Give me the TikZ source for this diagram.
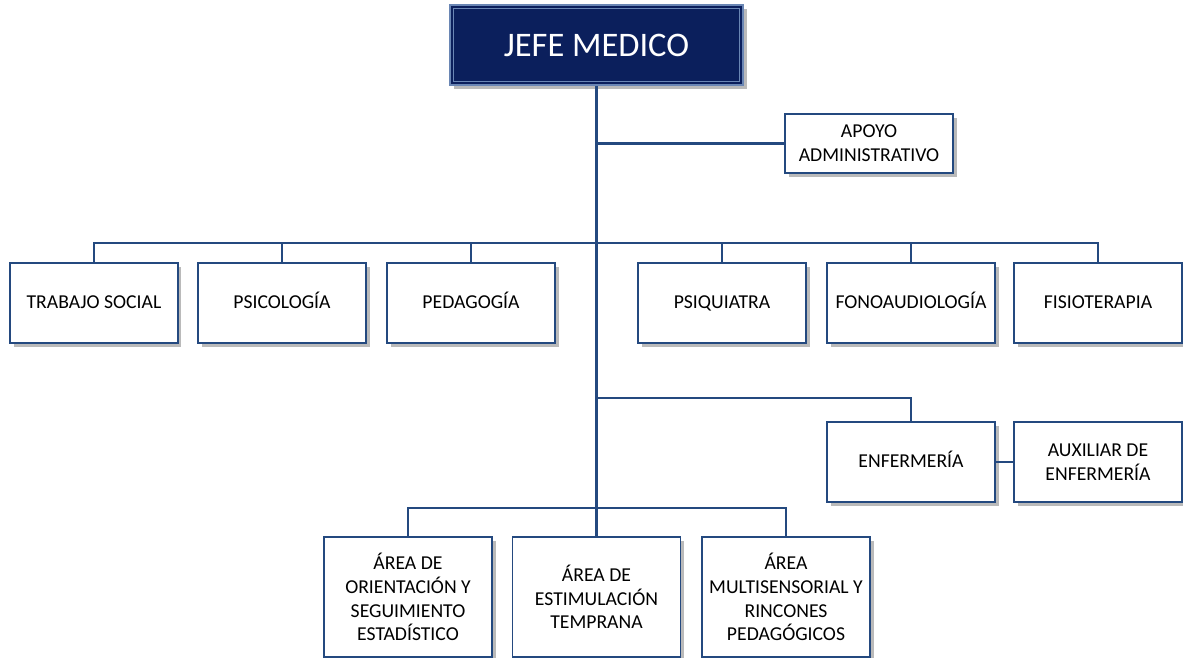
\documentclass[tikz,border=0pt]{standalone}
\usepackage{fontspec}
\setmainfont{Carlito}
\usepackage{tikz}
\usetikzlibrary{positioning, calc, shadows}
\definecolor{jefebg}{HTML}{0B1F5C}
\definecolor{jefeline}{HTML}{6A86B4}
\definecolor{orgline}{HTML}{24497F}
\tikzset{
  unidad/.style={draw=orgline, line width=1.1pt, fill=white, align=center,
    minimum width=3.36cm, minimum height=1.6cm, inner sep=2pt,
    font=\fontsize{11.2}{13.5}\selectfont,
    drop shadow={shadow xshift=2pt, shadow yshift=-2pt, fill=black!45, opacity=0.6}},
  unidad1/.style={unidad, text height=0.6em, text depth=-0.05em},
  area/.style={unidad, minimum height=2.4cm},
  conn/.style={draw=orgline, line width=1.4pt}
}
\begin{document}
\begin{tikzpicture}[x=0.02cm, y=-0.02cm]
\useasboundingbox (0,0) rectangle (1183,658);
% Jefe
\node[fill=jefebg, draw=jefeline, line width=0.9pt, minimum width=5.86cm, minimum height=1.6cm,
  text=white, font=\fontsize{19.6}{22}\selectfont,
  drop shadow={shadow xshift=2.5pt, shadow yshift=-2.5pt, fill=black!45, opacity=0.6}]
  (jefe) at (596.5,45) {JEFE MEDICO};
\draw[jefeline, line width=0.6pt] ([shift={(4,4)}]jefe.north west) rectangle ([shift={(-4,-4)}]jefe.south east);
% Apoyo
\node[unidad, minimum height=1.18cm] (apoyo) at (869,143.5) {APOYO\\ADMINISTRATIVO};
% Row of units
\node[unidad1] (trabajo) at (94,303) {TRABAJO SOCIAL};
\node[unidad1] (psico) at (282,303) {PSICOLOGÍA};
\node[unidad1] (pedago) at (471,303) {PEDAGOGÍA};
\node[unidad1] (psiqui) at (722,303) {PSIQUIATRA};
\node[unidad1] (fono) at (911,303) {FONOAUDIOLOGÍA};
\node[unidad1] (fisio) at (1098,303) {FISIOTERAPIA};
% Enfermeria
\node[unidad1] (enfer) at (911,462) {ENFERMERÍA};
\node[unidad] (aux) at (1098,462) {AUXILIAR DE\\ENFERMERÍA};
% Areas (bottom)
\node[area] (areaori) at (408,597) {ÁREA DE\\ORIENTACIÓN Y\\SEGUIMIENTO\\ESTADÍSTICO};
\node[area] (areaest) at (596.5,597) {ÁREA DE\\ESTIMULACIÓN\\TEMPRANA};
\node[area] (areamul) at (786,597) {ÁREA\\MULTISENSORIAL Y\\RINCONES\\PEDAGÓGICOS};
% Connectors
\coordinate (bus) at (596.5,243);
\coordinate (enfbus) at (596.5,398);
\coordinate (areabus) at (596.5,508);
\draw[conn] (jefe.south) -- (areaest.north);
\draw[conn] (apoyo.west) -- (apoyo.west -| jefe.south);
\foreach \u in {trabajo, psico, pedago, psiqui, fono, fisio}
  \draw[conn] (\u.north) |- (bus);
\draw[conn] (enfbus) -| (enfer.north);
\draw[conn] (enfer.east) -- (aux.west);
\draw[conn] (areaori.north) |- (areabus) -| (areamul.north);
\end{tikzpicture}
\end{document}
